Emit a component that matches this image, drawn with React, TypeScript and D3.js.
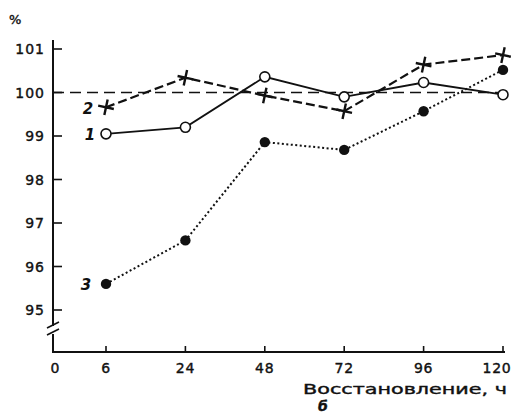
import { useEffect, useRef } from "react";
import * as d3 from "d3";

// recovery time, h
const hours = ["6", "24", "48", "72", "96", "120"];
const yTicks = [95, 96, 97, 98, 99, 100, 101];

const series1 = [99.05, 99.2, 100.36, 99.9, 100.23, 99.95];
const series2 = [99.66, 100.34, 99.93, 99.57, 100.64, 100.86];
const series3 = [95.6, 96.6, 98.86, 98.68, 99.57, 100.52];

const ink = "#111";
const font = "'DejaVu Sans', Verdana, sans-serif";

const App = () => {
  const ref = useRef<SVGSVGElement>(null);

  useEffect(() => {
    const svg = d3.select(ref.current);
    svg.selectAll("*").remove();

    const x = d3.scalePoint().domain(hours).range([106, 503]);
    const y = d3.scaleLinear().domain([95, 101]).range([310, 49]);
    const axisX = 53;
    const axisY = 352;

    // y axis line with a break
    svg.append("line").attr("x1", axisX).attr("x2", axisX).attr("y1", 40).attr("y2", 326)
      .attr("stroke", ink).attr("stroke-width", 2);
    svg.append("line").attr("x1", axisX).attr("x2", axisX).attr("y1", 334).attr("y2", axisY)
      .attr("stroke", ink).attr("stroke-width", 2);
    [325, 332].forEach((by) => {
      svg.append("line").attr("x1", axisX - 6).attr("x2", axisX + 6)
        .attr("y1", by + 3).attr("y2", by - 3)
        .attr("stroke", ink).attr("stroke-width", 1.6);
    });

    // x axis
    svg.append("line").attr("x1", axisX - 1).attr("x2", 505).attr("y1", axisY).attr("y2", axisY)
      .attr("stroke", ink).attr("stroke-width", 2);

    // y ticks
    const yg = svg.append("g").attr("font-family", font).attr("font-size", 14)
      .attr("letter-spacing", 1).attr("fill", ink).attr("stroke", ink).attr("stroke-width", 0.4);
    yTicks.forEach((t) => {
      svg.append("line").attr("x1", axisX).attr("x2", axisX + 9)
        .attr("y1", y(t)).attr("y2", y(t)).attr("stroke", ink).attr("stroke-width", 1.6);
      yg.append("text").attr("x", 45).attr("y", y(t)).attr("dy", "0.36em")
        .attr("text-anchor", "end").text(t);
    });
    yg.append("text").attr("x", 9).attr("y", 24).attr("font-size", 13).text("%");

    // x ticks
    const xg = svg.append("g").attr("font-family", font).attr("font-size", 14)
      .attr("fill", ink).attr("stroke", ink).attr("stroke-width", 0.4)
      .attr("text-anchor", "middle");
    xg.append("text").attr("x", axisX + 2).attr("y", 373).text("0");
    hours.forEach((h, i) => {
      svg.append("line").attr("x1", x(h)!).attr("x2", x(h)!)
        .attr("y1", axisY).attr("y2", axisY - 6).attr("stroke", ink).attr("stroke-width", 1.6);
      xg.append("text").attr("x", x(h)! - (i === hours.length - 1 ? 6 : 0)).attr("y", 373)
        .attr("letter-spacing", 0.8).text(h);
    });
    xg.append("text").attr("x", 303).attr("y", 394).attr("font-size", 14)
      .attr("text-anchor", "start").attr("textLength", 204)
      .attr("lengthAdjust", "spacingAndGlyphs")
      .text("Восстановление, ч");
    xg.append("text").attr("x", 323).attr("y", 411).attr("font-style", "italic")
      .attr("font-weight", "bold").text("б");

    // reference line at 100 %
    svg.append("line").attr("x1", axisX).attr("x2", 503).attr("y1", y(100)).attr("y2", y(100))
      .attr("stroke", ink).attr("stroke-width", 1.4).attr("stroke-dasharray", "11,6");

    const line = d3.line<number>().x((_, i) => x(hours[i])!).y((d) => y(d));

    svg.append("path").datum(series3).attr("d", line).attr("fill", "none")
      .attr("stroke", ink).attr("stroke-width", 2).attr("stroke-dasharray", "2,2.5");
    svg.append("path").datum(series1).attr("d", line).attr("fill", "none")
      .attr("stroke", ink).attr("stroke-width", 1.8);
    svg.append("path").datum(series2).attr("d", line).attr("fill", "none")
      .attr("stroke", ink).attr("stroke-width", 2.2).attr("stroke-dasharray", "9,4");

    // markers
    svg.selectAll(".m3").data(series3).enter().append("circle")
      .attr("cx", (_, i) => x(hours[i])!).attr("cy", (d) => y(d)).attr("r", 5.2).attr("fill", ink);
    svg.selectAll(".m1").data(series1).enter().append("circle")
      .attr("cx", (_, i) => x(hours[i])!).attr("cy", (d) => y(d)).attr("r", 5)
      .attr("fill", "#fff").attr("stroke", ink).attr("stroke-width", 1.6);
    svg.selectAll(".m2").data(series2).enter().append("path")
      .attr("transform", (d, i) => `translate(${x(hours[i])},${y(d)}) rotate(12)`)
      .attr("d", "M-8,0H8M0,-8V8").attr("stroke", ink).attr("stroke-width", 2.4);

    // series labels
    const lg = svg.append("g").attr("font-family", font).attr("font-size", 15)
      .attr("font-weight", "bold").attr("font-style", "italic").attr("fill", ink)
      .attr("text-anchor", "middle");
    lg.append("text").attr("x", 88).attr("y", y(series2[0]) + 7).text("2");
    lg.append("text").attr("x", 90).attr("y", y(series1[0]) + 6).text("1");
    lg.append("text").attr("x", 86).attr("y", y(series3[0]) + 6).text("3");
  }, []);

  return (
    <svg ref={ref} width={515} height={415}
      style={{ position: "absolute", left: 0, top: 0, background: "#fff" }} />
  );
};

export default App;
